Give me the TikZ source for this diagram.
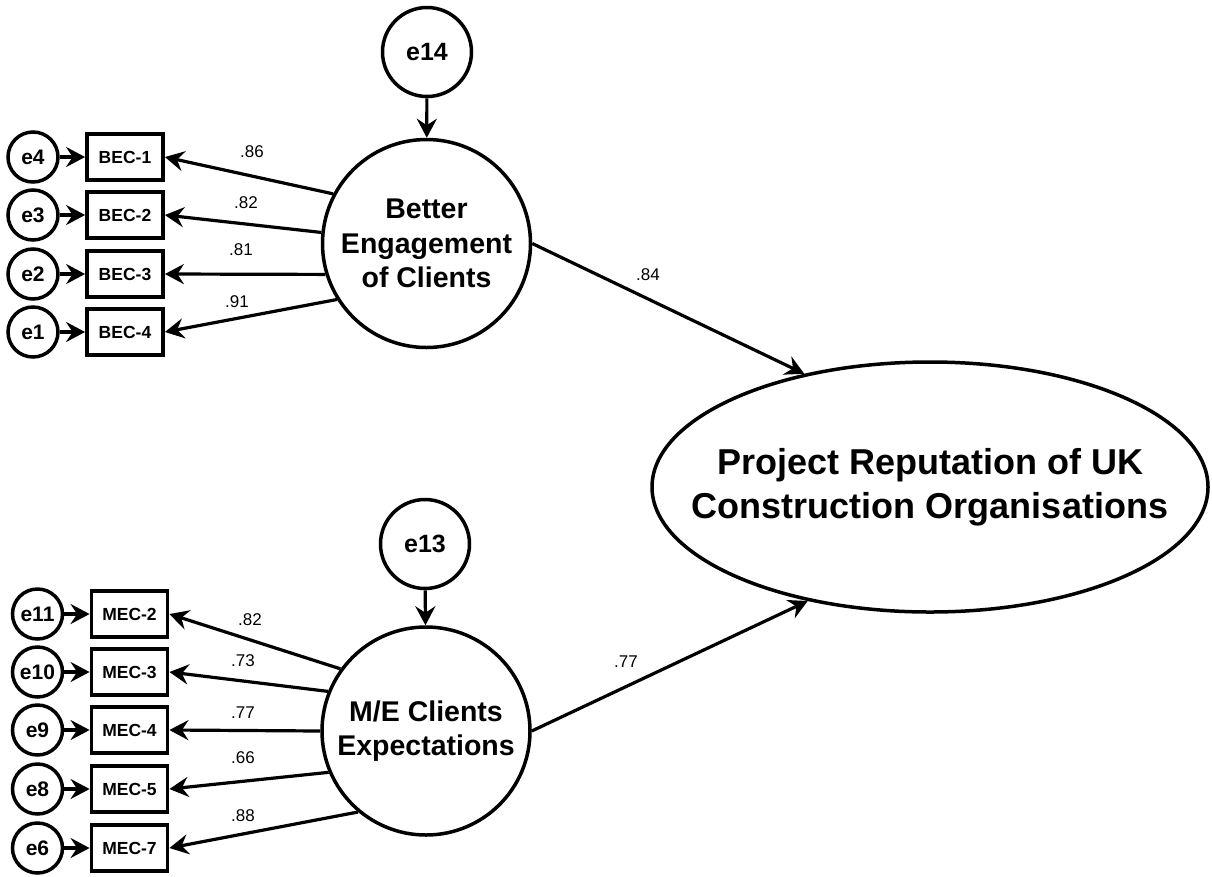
\documentclass[tikz,border=0pt]{standalone}
\usepackage{fontspec}
\setmainfont{Liberation Sans}
\usetikzlibrary{arrows.meta,shapes.geometric}

\begin{document}
\begin{tikzpicture}[x=1pt,y=-1pt,
  every node/.style={inner sep=0pt},
  err/.style={circle,draw,line width=3.5pt,minimum size=50pt,font=\fontsize{21}{21}\bfseries},
  bigerr/.style={circle,draw,line width=3.5pt,minimum size=89pt,font=\fontsize{25}{25}\bfseries},
  ind/.style={rectangle,draw,line width=3.8pt,minimum width=76pt,minimum height=46pt,font=\fontsize{17.5}{17.5}\bfseries},
  latent/.style={circle,draw,line width=3.5pt,minimum size=208pt},
  latenttext/.style={align=center,font=\fontsize{28.5}{34.5}\bfseries},
  outcome/.style={ellipse,draw,line width=3.5pt,minimum width=556pt,minimum height=250pt},
  outcometext/.style={align=center,font=\fontsize{36}{44}\bfseries},
  link/.style={line width=3.2pt,-{Stealth[length=19pt,width=20pt,inset=6.5pt]}},
  coef/.style={font=\fontsize{17}{17}\selectfont}]

\useasboundingbox (0,0) rectangle (1212,876);

% outcome construct
\node[outcome] (PR) at (930,487) {};
\node[outcometext] at (PR.center) {Project Reputation of UK\\Construction Organisations};

% Better Engagement of Clients block
\node[latent] (BEC) at (426.5,243.5) {};
\node[latenttext] at (BEC.center) {Better\\Engagement\\of Clients};
\node[bigerr] (e14) at (427,52) {e14};
\draw[link] (e14) -- (BEC);

\node[ind] (b1) at (125,157) {BEC-1};
\node[ind] (b2) at (125,215) {BEC-2};
\node[ind] (b3) at (125,274) {BEC-3};
\node[ind] (b4) at (125,332) {BEC-4};
\node[err] (e4) at (33,157) {e4};
\node[err] (e3) at (33,215) {e3};
\node[err] (e2) at (33,274) {e2};
\node[err] (e1) at (33,332) {e1};
\draw[link] (e4) -- (b1);
\draw[link] (e3) -- (b2);
\draw[link] (e2) -- (b3);
\draw[link] (e1) -- (b4);

\draw[link] (BEC.152) -- (b1.east);
\draw[link] (BEC.174.6) -- (b2.east);
\draw[link] (BEC.197) -- (b3.east);
\draw[link] (BEC.212) -- (b4.east);
\node[coef] (c1) at (252,152) {.86};
\node[coef] (c2) at (246,203) {.82};
\node[coef] (c3) at (241,250) {.81};
\node[coef] (c4) at (237,302) {.91};

% M/E Clients Expectations block
\node[latent] (MEC) at (426,731) {};
\node[latenttext] at (MEC.center) {M/E Clients\\Expectations};
\node[bigerr] (e13) at (425,544) {e13};
\draw[link] (e13) -- (MEC);

\node[ind] (m2) at (129.5,614) {MEC-2};
\node[ind] (m3) at (129.5,672) {MEC-3};
\node[ind] (m4) at (129.5,730) {MEC-4};
\node[ind] (m5) at (129.5,789) {MEC-5};
\node[ind] (m7) at (129.5,848) {MEC-7};
\node[err] (e11) at (37.5,614) {e11};
\node[err] (e10) at (37.5,672) {e10};
\node[err] (e9) at (37.5,730) {e9};
\node[err] (e8) at (37.5,789) {e8};
\node[err] (e6) at (37.5,848) {e6};
\draw[link] (e11) -- (m2);
\draw[link] (e10) -- (m3);
\draw[link] (e9) -- (m4);
\draw[link] (e8) -- (m5);
\draw[link] (e6) -- (m7);

\draw[link] (MEC.144) -- (m2.east);
\draw[link] (MEC.158) -- (m3.east);
\draw[link] (MEC.180) -- (m4.east);
\draw[link] (MEC.203) -- (m5.east);
\draw[link] (MEC.230) -- (m7.east);
\node[coef] (d1) at (250,620) {.82};
\node[coef] (d2) at (243,661) {.73};
\node[coef] (d3) at (243,713) {.77};
\node[coef] (d4) at (243,758) {.66};
\node[coef] (d5) at (243,816) {.88};

% structural paths
\draw[link] (BEC.east) -- (PR.138.6);
\draw[link] (MEC.east) -- (PR.223.3);
\node[coef] (s1) at (648,275) {.84};
\node[coef] (s2) at (626,662) {.77};
\end{tikzpicture}
\end{document}
